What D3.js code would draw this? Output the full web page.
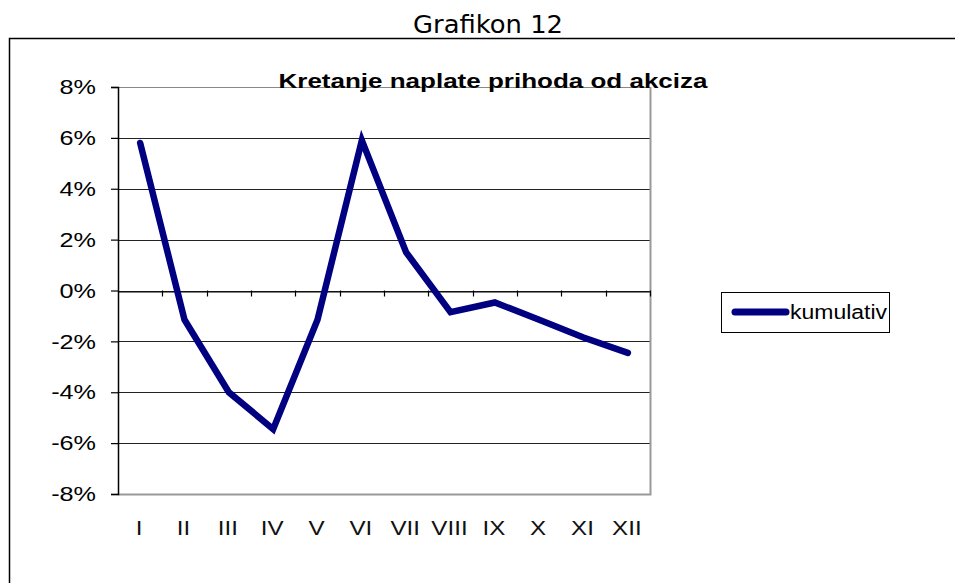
<!DOCTYPE html>
<html>
<head>
<meta charset="utf-8">
<script src="https://cdn.jsdelivr.net/npm/d3@7"></script>
<style>
  body { margin: 0; background: #fff; }
</style>
</head>
<body>
<svg class="chart"></svg>
<script>
const width = 955;
const height = 583;

// data
const months = ['I', 'II', 'III', 'IV', 'V', 'VI', 'VII', 'VIII', 'IX', 'X', 'XI', 'XII'];
const kumulativ = [5.8, -1.15, -4.0, -5.45, -1.15, 5.9, 1.5, -0.85, -0.47, -1.15, -1.85, -2.45];
const yTicks = [-8, -6, -4, -2, 0, 2, 4, 6, 8];

const svg = d3.select('.chart')
    .attr('width', width)
    .attr('height', height);

// widen text glyphs a bit (the source was rendered stretched)
function stretch(sel, factor) {
    sel.each(function() {
        const w = this.getComputedTextLength();
        d3.select(this)
            .attr('textLength', w * factor)
            .attr('lengthAdjust', 'spacingAndGlyphs');
    });
}

// page heading
svg.append('text')
    .attr('x', 488)
    .attr('y', 33)
    .attr('text-anchor', 'middle')
    .attr('font-family', 'DejaVu Sans')
    .attr('font-size', 24)
    .attr('fill', '#000')
    .attr('textLength', 150)
    .attr('lengthAdjust', 'spacingAndGlyphs')
    .text('Grafikon 12');

// outer frame (left and top only, rest is off the page)
svg.append('path')
    .attr('d', `M9.5,${height}V38.5H${width}`)
    .attr('fill', 'none')
    .attr('stroke', '#000')
    .attr('stroke-width', 1.5);

// plot area
const plot = {left: 118, right: 650, top: 87, bottom: 494};

const x = d3.scaleBand()
    .domain(months)
    .range([plot.left, plot.right]);

const y = d3.scaleLinear()
    .domain([-8, 8])
    .range([plot.bottom, plot.top]);

// gridlines
svg.append('g')
    .selectAll('line')
    .data(yTicks.filter(d => d !== -8))
    .enter()
    .append('line')
    .attr('x1', plot.left)
    .attr('x2', plot.right)
    .attr('y1', d => Math.round(y(d)) + 0.5)
    .attr('y2', d => Math.round(y(d)) + 0.5)
    .attr('stroke', d => d === 8 ? '#888' : '#222')
    .attr('stroke-width', 1.2);

// right and bottom border of plot area
svg.append('path')
    .attr('d', `M${plot.right + 0.5},${plot.top}V${plot.bottom + 0.5}H${plot.left}`)
    .attr('fill', 'none')
    .attr('stroke', '#999')
    .attr('stroke-width', 2);

// y axis
const yAxis = d3.axisLeft(y)
    .tickValues(yTicks)
    .tickSize(7)
    .tickPadding(15)
    .tickFormat(d => d + '%');

svg.append('g')
    .attr('transform', `translate(${plot.left},0)`)
    .call(yAxis)
    .call(g => g.select('.domain').attr('stroke', '#000').attr('stroke-width', 1.5))
    .call(g => g.selectAll('.tick line').attr('stroke', '#000').attr('stroke-width', 1.2))
    .call(g => g.selectAll('.tick text')
        .attr('font-family', 'Liberation Sans')
        .attr('font-size', 21)
        .attr('fill', '#000')
        .call(stretch, 1.2));

// x axis at 0%
const xAxis = d3.axisBottom(x)
    .tickSize(0)
    .tickFormat('');

svg.append('g')
    .attr('transform', `translate(0,${Math.round(y(0)) + 0.5})`)
    .call(xAxis)
    .call(g => g.select('.domain').attr('stroke', '#000').attr('stroke-width', 1.2));

// category boundary ticks on the 0% line
svg.append('g')
    .selectAll('line')
    .data(months)
    .enter()
    .append('line')
    .attr('x1', d => Math.round(x(d) + x.bandwidth()) + 0.5)
    .attr('x2', d => Math.round(x(d) + x.bandwidth()) + 0.5)
    .attr('y1', y(0))
    .attr('y2', y(0) + 6)
    .attr('stroke', '#000')
    .attr('stroke-width', 1.2);

// category labels
svg.append('g')
    .selectAll('text')
    .data(months)
    .enter()
    .append('text')
    .attr('x', d => x(d) + x.bandwidth() / 2 - 1)
    .attr('y', 535)
    .attr('text-anchor', 'middle')
    .attr('font-family', 'Liberation Sans')
    .attr('font-size', 21)
    .attr('fill', '#111')
    .text(d => d)
    .call(stretch, 1.15);

// chart title
svg.append('text')
    .attr('x', 493)
    .attr('y', 88)
    .attr('text-anchor', 'middle')
    .attr('font-family', 'Liberation Sans')
    .attr('font-weight', 'bold')
    .attr('font-size', 21)
    .attr('fill', '#000')
    .attr('textLength', 429)
    .attr('lengthAdjust', 'spacingAndGlyphs')
    .text('Kretanje naplate prihoda od akciza');

// line
const line = d3.line()
    .x((d, i) => x(months[i]) + x.bandwidth() / 2)
    .y(d => y(d));

svg.append('path')
    .datum(kumulativ)
    .attr('d', line)
    .attr('fill', 'none')
    .attr('stroke', '#000080')
    .attr('stroke-width', 6.5)
    .attr('stroke-linejoin', 'miter')
    .attr('stroke-linecap', 'round');

// legend
const legend = svg.append('g')
    .attr('transform', 'translate(721,292)');

legend.append('rect')
    .attr('x', 0.5)
    .attr('y', 0.5)
    .attr('width', 168)
    .attr('height', 40)
    .attr('fill', '#fff')
    .attr('stroke', '#000')
    .attr('stroke-width', 1);

legend.append('line')
    .attr('x1', 14)
    .attr('x2', 65)
    .attr('y1', 20)
    .attr('y2', 20)
    .attr('stroke', '#000080')
    .attr('stroke-width', 7)
    .attr('stroke-linecap', 'round');

legend.append('text')
    .attr('x', 69)
    .attr('y', 27)
    .attr('font-family', 'Liberation Sans')
    .attr('font-size', 20)
    .attr('fill', '#000')
    .attr('textLength', 97)
    .attr('lengthAdjust', 'spacingAndGlyphs')
    .text('kumulativ');
</script>
</body>
</html>
